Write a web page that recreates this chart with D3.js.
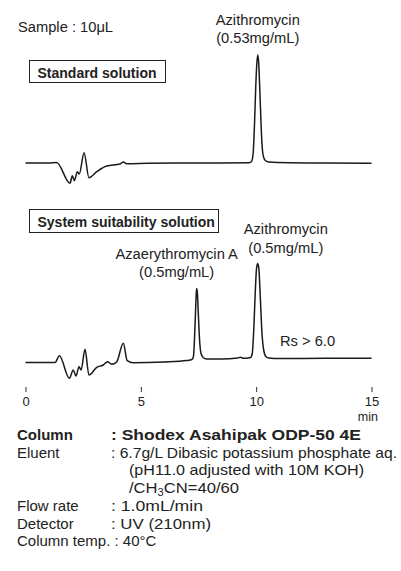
<!DOCTYPE html>
<html>
<head>
<meta charset="utf-8">
<script src="https://cdn.jsdelivr.net/npm/d3@7"></script>
<style>
  html, body { margin: 0; padding: 0; background: #fff; }
  svg { display: block; font-family: "Liberation Sans", Arial, Helvetica, sans-serif; }
  text { fill: #222; }
</style>
</head>
<body>
<svg width="401" height="571"></svg>
<script>
// retention time (min) and detector response (arbitrary units, baseline = 0)
var standardTrace = [
  [0, 0], [1.0, 0], [1.35, 0.5], [1.93, -20.3], [2.03, -12.7], [2.12, -17.7], [2.25, -8.7],
  [2.33, -11], [2.54, 10.3], [2.75, -14.7], [3.09, -8.7], [3.52, -3], [4.10, -1], [4.24, 1],
  [4.39, -0.7], [5.31, -0.3], [7.5, 0], [9.70, 0.3], [9.80, 1.5], [9.87, 10], [9.93, 40],
  [9.98, 75], [10.03, 100], [10.07, 108], [10.11, 100], [10.16, 72], [10.21, 40], [10.26, 16],
  [10.32, 6], [10.40, 2.5], [10.55, 1], [11.5, 0.3], [13, 0], [15, -0.3]
];

var suitabilityTrace = [
  [0, 0], [1.28, 0], [1.47, 6.8], [1.90, -15.8], [2.07, -7.5], [2.19, -13.5], [2.32, -4.2],
  [2.41, -7.5], [2.58, 13.2], [2.75, -12.5], [3.09, -4.8], [3.37, -2.5], [3.55, 0.8],
  [3.74, -1.8], [3.95, 0.5], [4.24, 19.2], [4.41, 1.8], [4.67, -0.3], [6.0, 0.5], [7.0, 2],
  [7.22, 3], [7.28, 6], [7.32, 20], [7.37, 50], [7.40, 68], [7.42, 74], [7.45, 70], [7.49, 50],
  [7.54, 25], [7.61, 9], [7.70, 5], [7.85, 3.5], [8.5, 3.5], [9.2, 4.5], [9.31, 5.2],
  [9.45, 4.3], [9.65, 4.5], [9.76, 5], [9.83, 9], [9.90, 35], [9.96, 70], [10.02, 95],
  [10.07, 99], [10.12, 93], [10.18, 65], [10.25, 30], [10.33, 12], [10.42, 6], [10.55, 4.5],
  [11.0, 4], [13.0, 4.2], [15, 4.2]
];

var timeTicks = [0, 5, 10, 15];

var conditionLabels = ['Column', 'Eluent', '', '', 'Flow rate', 'Detector', 'Column temp. : 40°C'];
var conditionValues = [': Shodex Asahipak ODP-50 4E', ': 6.7g/L Dibasic potassium phosphate aq.',
  '(pH11.0 adjusted with 10M KOH)', '/CH3CN=40/60', ': 1.0mL/min', ': UV (210nm)', ''];
// rendered widths of the value strings, as measured on the reference
var conditionWidths = [250, 286, 235, 110, 92, 100, 0];

var svg = d3.select('svg');

var x = d3.scaleLinear().domain([0, 15]).range([25.5, 371.5]);
var yStandard = d3.scaleLinear().domain([0, 110]).range([163, 53]);
var ySuitability = d3.scaleLinear().domain([0, 110]).range([362.5, 252.5]);

function drawTrace(data, y) {
  var line = d3.line()
    .x(function (d) { return x(d[0]); })
    .y(function (d) { return y(d[1]); })
    .curve(d3.curveMonotoneX);
  svg.append('path')
    .datum(data)
    .attr('d', line)
    .attr('fill', 'none')
    .attr('stroke', '#1a1a1a')
    .attr('stroke-width', 1.5)
    .attr('stroke-linejoin', 'round');
}

drawTrace(standardTrace, yStandard);
drawTrace(suitabilityTrace, ySuitability);

function label(txt, px, py, anchor, weight, size) {
  return svg.append('text')
    .attr('x', px).attr('y', py)
    .attr('text-anchor', anchor || 'start')
    .attr('font-size', size || 14.7)
    .attr('font-weight', weight || 'normal')
    .text(txt);
}

function boxLabel(txt, px, py, w, h) {
  svg.append('rect')
    .attr('x', px).attr('y', py).attr('width', w).attr('height', h)
    .attr('fill', 'none').attr('stroke', '#222').attr('stroke-width', 1);
  label(txt, px + 8, py + 17.5, 'start', 'bold', 14);
}

label('Sample : 10μL', 18, 32);
boxLabel('Standard solution', 29.5, 60.5, 136, 22);
label('Azithromycin', x(10.07), 25, 'middle');
label('(0.53mg/mL)', x(10.07), 43, 'middle');

boxLabel('System suitability solution', 29.5, 209.5, 189, 23);
label('Azaerythromycin A', x(7.42) - 20, 259, 'middle');
label('(0.5mg/mL)', x(7.42) - 20, 277, 'middle');
label('Azithromycin', x(10.07) + 28, 234, 'middle');
label('(0.5mg/mL)', x(10.07) + 28, 253, 'middle');
label('Rs > 6.0', 280, 345.5);

// time axis: short ticks above the labels, no axis line
var axis = svg.append('g').attr('transform', 'translate(0,387)')
  .call(d3.axisBottom(x).tickValues(timeTicks).tickSize(5).tickPadding(3));
axis.select('.domain').remove();
axis.selectAll('line').attr('stroke', '#333');
axis.selectAll('text').attr('font-size', 13).attr('font-family', null).attr('fill', '#222')
  .attr('dy', null).attr('y', 19);
label('min', 378, 421, 'end', 'normal', 12.5);

// chromatographic conditions
conditionLabels.forEach(function (t, i) {
  var yy = 440 + i * 17.7;
  if (t) label(t, 17, yy, 'start', i === 0 ? 'bold' : 'normal', 15);
  var v = conditionValues[i];
  if (!v) return;
  var vx = (i === 2 || i === 3) ? 129 : 111;
  var el = label('', vx, yy, 'start', i === 0 ? 'bold' : 'normal', 15)
    .attr('textLength', conditionWidths[i])
    .attr('lengthAdjust', 'spacingAndGlyphs');
  if (v.indexOf('CH3CN') >= 0) {
    el.append('tspan').text('/CH');
    el.append('tspan').attr('font-size', 10).attr('dy', 3).text('3');
    el.append('tspan').attr('dy', -3).text('CN=40/60');
  } else {
    el.text(v);
  }
});
</script>
</body>
</html>
